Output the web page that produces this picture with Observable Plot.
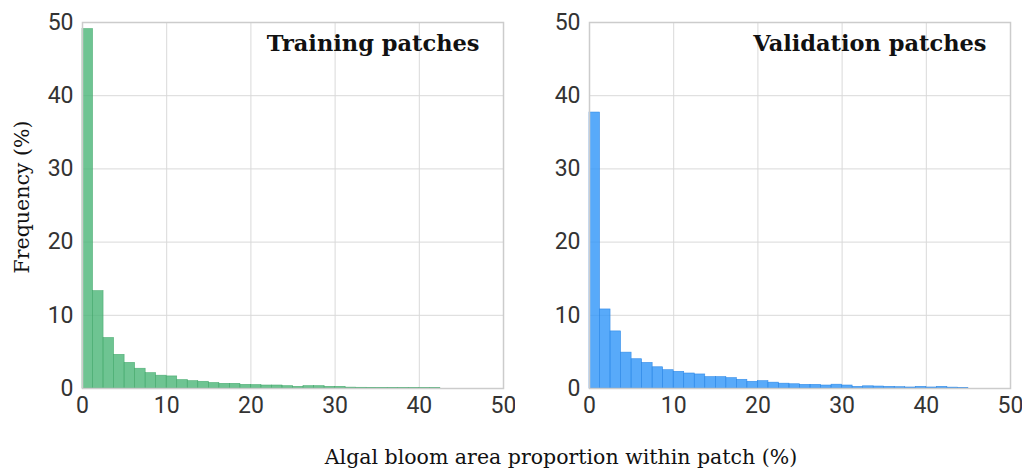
<!DOCTYPE html>
<html>
<head>
<meta charset="utf-8">
<script src="https://cdn.jsdelivr.net/npm/d3@7"></script>
<script src="https://cdn.jsdelivr.net/npm/@observablehq/plot@0.6"></script>
<style>
  html, body { margin: 0; padding: 0; background: #fff; }
  #wrap { position: relative; width: 1027px; height: 471px; overflow: hidden; }
  .panel { position: absolute; top: 0; }
  #ylab { position: absolute; left: 22px; top: 197px; transform: translate(-50%, -50%) rotate(-90deg);
          font-family: "DejaVu Serif", serif; font-size: 20.5px; color: #111; white-space: nowrap; }
  #xlab { position: absolute; left: 561px; top: 457px; transform: translate(-50%, -50%);
          font-family: "DejaVu Serif", serif; font-size: 20.5px; color: #111; white-space: nowrap; }
</style>
</head>
<body>
<div id="wrap">
  <div id="left" class="panel" style="left:0px"></div>
  <div id="right" class="panel" style="left:510px"></div>
  <div id="ylab">Frequency (%)</div>
  <div id="xlab">Algal bloom area proportion within patch (%)</div>
</div>
<script>
// Bin width 1.25 over 0–50 (40 bins)
const binWidth = 1.25;
const binStarts = d3.range(40).map(i => i * binWidth);

const trainingFreq = [
  49.1, 13.3, 6.9, 4.6, 3.5, 2.7, 2.1, 1.75, 1.65, 1.15,
  1.0, 0.92, 0.75, 0.64, 0.64, 0.5, 0.47, 0.41, 0.41, 0.32,
  0.23, 0.32, 0.32, 0.23, 0.23, 0.12, 0.1, 0.09, 0.08, 0.08,
  0.07, 0.07, 0.06, 0.05, 0, 0, 0, 0, 0, 0
];
const validationFreq = [
  37.7, 10.8, 7.8, 4.9, 4.0, 3.5, 2.9, 2.5, 2.28, 2.05,
  1.92, 1.56, 1.56, 1.42, 1.19, 0.92, 1.0, 0.8, 0.66, 0.58,
  0.5, 0.5, 0.41, 0.52, 0.41, 0.23, 0.3, 0.27, 0.23, 0.18,
  0.14, 0.23, 0.14, 0.23, 0.12, 0.05, 0, 0, 0, 0
];
const xTicks = [0, 10, 20, 30, 40, 50];
const yTicks = [0, 10, 20, 30, 40, 50];
const gridTicks = [10, 20, 30, 40];

function panel(values, fill, stroke, title, width, marginLeft) {
  const data = binStarts.map((s, i) => ({x1: s, x2: s + binWidth, y: values[i]})).filter(d => d.y > 0);
  return Plot.plot({
    width, height: 420,
    marginLeft, marginRight: 12, marginTop: 22, marginBottom: 32,
    style: {fontFamily: "Roboto, 'Liberation Sans', sans-serif", fontSize: "23px", color: "#333", background: "transparent"},
    x: {domain: [0, 50]},
    y: {domain: [0, 50]},
    marks: [
      Plot.gridX(gridTicks, {stroke: "#d9d9d9", strokeOpacity: 1, strokeWidth: 1}),
      Plot.gridY(gridTicks, {stroke: "#d9d9d9", strokeOpacity: 1, strokeWidth: 1}),
      Plot.rectY(data, {x1: "x1", x2: "x2", y: "y", fill, fillOpacity: 0.8, stroke, strokeOpacity: 0.9, strokeWidth: 0.6, inset: 0}),
      Plot.frame({stroke: "#cccccc", strokeWidth: 1.5}),
      Plot.axisX(xTicks, {tickSize: 0, tickPadding: 8, label: null, fontSize: 23, fill: "#333"}),
      Plot.axisY(yTicks, {tickSize: 0, tickPadding: 9, label: null, fontSize: 23, fill: "#333"}),
      Plot.text([title], {frameAnchor: "top-right", dx: -24, dy: 13, lineAnchor: "top",
        fontFamily: "'DejaVu Serif', serif", fontWeight: "bold", fontSize: 22.5, fill: "#111"})
    ]
  });
}

document.getElementById("left").appendChild(
  panel(trainingFreq, "#4ab577", "#45a86d", "Training patches", 515, 82));
document.getElementById("right").appendChild(
  panel(validationFreq, "#2e95f9", "#2a86e6", "Validation patches", 512, 79));
</script>
</body>
</html>
